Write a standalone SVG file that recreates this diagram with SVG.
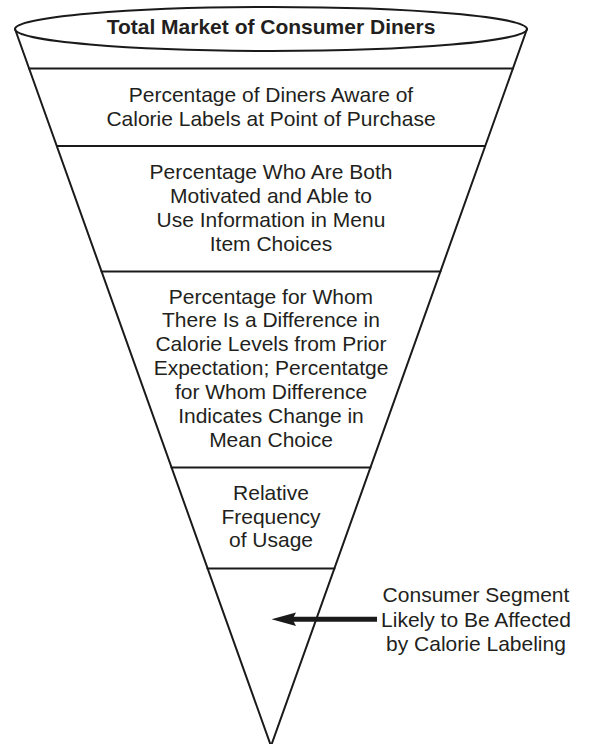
<svg xmlns="http://www.w3.org/2000/svg" width="590" height="744" viewBox="0 0 590 744">
<style>
.ln{stroke:#1a1a1a;stroke-width:2;fill:none;stroke-linecap:round}
.t{font-family:"Liberation Sans",Arial,sans-serif;font-size:21px;fill:#231f20;text-anchor:middle}
.b{font-weight:bold}
</style>
<rect width="590" height="744" fill="#fff"/>
<g id="cone">
<path class="ln" d="M15,29 L271,746 L527,29"/>
</g>
<g id="top">
<ellipse class="ln" cx="271" cy="29" rx="256" ry="22"/>
<text class="t b" x="271" y="34">Total Market of Consumer Diners</text>
</g>
<g id="aware">
<line class="ln" x1="29" y1="68.5" x2="513" y2="68.5"/>
<text class="t" x="271" y="101.5">Percentage of Diners Aware of</text>
<text class="t" x="271" y="125.5">Calorie Labels at Point of Purchase</text>
</g>
<g id="motivated">
<line class="ln" x1="57" y1="146" x2="485" y2="146"/>
<text class="t" x="271" y="178.5">Percentage Who Are Both</text>
<text class="t" x="271" y="202.5">Motivated and Able to</text>
<text class="t" x="271" y="226.5">Use Information in Menu</text>
<text class="t" x="271" y="250.5">Item Choices</text>
</g>
<g id="difference">
<line class="ln" x1="101.5" y1="271.5" x2="440.5" y2="271.5"/>
<text class="t" x="271" y="303.5">Percentage for Whom</text>
<text class="t" x="271" y="327.4">There Is a Difference in</text>
<text class="t" x="271" y="351.3">Calorie Levels from Prior</text>
<text class="t" x="271" y="375.2">Expectation; Percentatge</text>
<text class="t" x="271" y="399.1">for Whom Difference</text>
<text class="t" x="271" y="423">Indicates Change in</text>
<text class="t" x="271" y="446.9">Mean Choice</text>
</g>
<g id="frequency">
<line class="ln" x1="171.5" y1="467.5" x2="370.5" y2="467.5"/>
<text class="t" x="271" y="500">Relative</text>
<text class="t" x="271" y="523.5">Frequency</text>
<text class="t" x="271" y="547">of Usage</text>
</g>
<g id="segment">
<line class="ln" x1="207.5" y1="568.5" x2="334.5" y2="568.5"/>
<text class="t" x="476" y="602">Consumer Segment</text>
<text class="t" x="476" y="626.5">Likely to Be Affected</text>
<text class="t" x="476" y="651">by Calorie Labeling</text>
</g>
<g id="connectors">
<line x1="292" y1="619.3" x2="377" y2="619.3" stroke="#1a1a1a" stroke-width="5"/>
<path d="M271.5,619.3 L296,612.5 L292.5,619.3 L296,626 Z" fill="#1a1a1a"/>
</g>
</svg>
